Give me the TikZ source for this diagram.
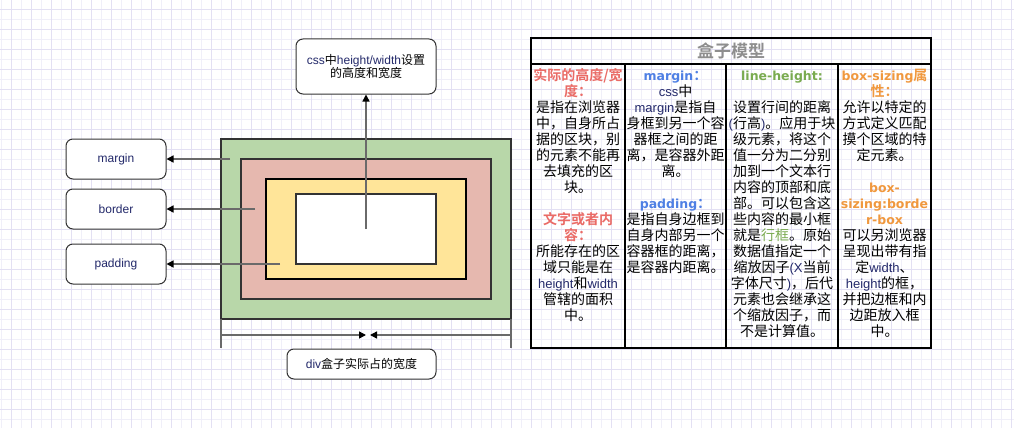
\documentclass[tikz,border=0pt]{standalone}
\usepackage{fontspec}
\setmainfont{Noto Sans CJK SC}[BoldFont=* Bold]
\newfontfamily\latfont{Liberation Sans}
\newfontfamily\hdfont{DejaVu Sans}
\usetikzlibrary{arrows.meta}

\definecolor{griddark}{HTML}{E3E0F3}
\definecolor{gridlight}{HTML}{F0EFF9}
\definecolor{edge}{HTML}{333333}
\definecolor{wire}{HTML}{6A6A6A}
\definecolor{mgreen}{HTML}{B8D7A9}
\definecolor{mred}{HTML}{E6B8AF}
\definecolor{myellow}{HTML}{FFE599}
\definecolor{latc}{HTML}{23296A}
\definecolor{hred}{HTML}{EA6B66}
\definecolor{hblue}{HTML}{4F80E4}
\definecolor{hgreen}{HTML}{7AAB50}
\definecolor{horange}{HTML}{F0983E}
\definecolor{titlegray}{HTML}{8E8E8E}

% Latin words inside the table body
\newcommand\lw[1]{{\latfont\fontsize{13}{16}\selectfont\color{latc}#1}}
% headings of the table columns
\newcommand\hd[2]{{\color{#1}\bfseries #2}}
\newcommand\hdl[2]{{\color{#1}\hdfont\bfseries\fontsize{12.5}{16}\selectfont #2}}
\newcommand\firstline{\rule{0pt}{13pt}}

\tikzset{
  layer/.style={draw=edge, line width=2pt, inner sep=0pt, outer sep=0pt, anchor=north west},
  lbl/.style={draw=edge, fill=white, rounded corners=7pt, line width=1pt,
    minimum width=100pt, minimum height=40pt, inner sep=0pt,
    font=\latfont\fontsize{12}{14}\selectfont, text=latc},
  arr/.style={draw=wire, line width=1.4pt, -{Triangle[length=7pt,width=7pt,color=black]}},
  tick/.style={draw=wire, line width=1.4pt},
  col/.style={anchor=north, inner sep=0pt, align=center,
    font=\fontsize{14}{16}\selectfont},
  tbl/.style={draw=black, line width=2pt},
}

\begin{document}
\begin{tikzpicture}[x=1pt,y=-1pt]
\useasboundingbox (0,0) rectangle (1014,428);
\fill[white] (0,0) rectangle (1014,428);

% background grid
\foreach \x in {1,21,...,1011} \draw[gridlight, line width=0.8pt] (\x,0) -- (\x,428);
\foreach \y in {19,39,...,419} \draw[gridlight, line width=0.8pt] (0,\y) -- (1014,\y);
\foreach \x in {11,31,...,1011} \draw[griddark, line width=0.8pt] (\x,0) -- (\x,428);
\foreach \y in {9,29,...,429} \draw[griddark, line width=0.8pt] (0,\y) -- (1014,\y);

% nested box layers
\node[layer, fill=mgreen, minimum width=290pt, minimum height=180pt] (mg) at (221,139) {};
\node[layer, fill=mred, minimum width=250pt, minimum height=140pt] (bd) at (241,159) {};
\node[layer, fill=myellow, draw=black, minimum width=200pt, minimum height=100pt] (pd) at (266,179) {};
\node[layer, fill=white, minimum width=140pt, minimum height=70pt] (ct) at (296,194) {};

% labels
\node[lbl] (lmargin) at (116,159) {margin};
\node[lbl] (lborder) at (116,209) {border};
\node[lbl] (lpadding) at (116,264) {padding};
\node[lbl, minimum width=140pt, minimum height=55pt, align=center, text=black,
      font=\fontsize{12}{13.5}\selectfont] (ltop) at (366,66.5)
  {\lw{\fontsize{12}{13.5}\selectfont css}中\lw{\fontsize{12}{13.5}\selectfont height/width}设置\\的高度和宽度};
\node[lbl, minimum width=149pt, minimum height=30pt, text=black,
      font=\fontsize{12}{14}\selectfont] (lwidth) at (361.5,364)
  {\lw{\fontsize{12}{14}\selectfont div}盒子实际占的宽度};

% connectors
\coordinate (pm) at (230,159);
\coordinate (pb) at (255,209);
\coordinate (pp) at (280,264);
\coordinate (pc) at (366,229);
\draw[arr] (pm) -- (lmargin.east);
\draw[arr] (pb) -- (lborder.east);
\draw[arr] (pp) -- (lpadding.east);
\draw[arr] (pc) -- (ltop.south);

% width dimension
\coordinate (tl) at (221,348);
\coordinate (tr) at (511,348);
\coordinate (dl) at (221,335);
\coordinate (dr) at (511,335);
\coordinate (dml) at (366,335);
\coordinate (dmr) at (370,335);
\draw[tick] (mg.south west) -- (tl);
\draw[tick] (mg.south east) -- (tr);
\draw[arr] (dl) -- (dml);
\draw[arr] (dr) -- (dmr);

% table
\draw[tbl] (531,38) rectangle (931,348);
\draw[tbl] (531,64) -- (931,64);
\draw[tbl] (625,64) -- (625,348);
\draw[tbl] (726,64) -- (726,348);
\draw[tbl] (838,64) -- (838,348);
\node[text=titlegray, font=\fontsize{17}{20}\selectfont\bfseries] (title) at (731,51) {盒子模型};

\node[col] (c1) at (578,67) {%
\firstline\hd{hred}{实际的高度/宽}\\
\hd{hred}{度：}\\
是指在浏览器\\
中，自身所占\\
据的区块，别\\
的元素不能再\\
去填充的区\\
块。\\[16pt]
\hd{hred}{文字或者内}\\
\hd{hred}{容：}\\
所能存在的区\\
域只能是在\\
\lw{height}和\lw{width}\\
管辖的面积\\
中。};

\node[col] (c2) at (675.5,67) {%
\firstline\hdl{hblue}{margin}\hd{hblue}{：}\\
\lw{css}中\\
\lw{margin}是指自\\
身框到另一个容\\
器框之间的距\\
离，是容器外距\\
离。\\[16pt]
\hdl{hblue}{padding}\hd{hblue}{：}\\
是指自身边框到\\
自身内部另一个\\
容器框的距离，\\
是容器内距离。};

\node[col] (c3) at (782,67) {%
\firstline\hdl{hgreen}{line-height:}\\[16pt]
设置行间的距离\\
\lw{(}行高\lw{)}。应用于块\\
级元素，将这个\\
值一分为二分别\\
加到一个文本行\\
内容的顶部和底\\
部。可以包含这\\
些内容的最小框\\
就是{\color{hgreen}行框}。原始\\
数据值指定一个\\
缩放因子\lw{(X}当前\\
字体尺寸\lw{)}，后代\\
元素也会继承这\\
个缩放因子，而\\
不是计算值。};

\node[col] (c4) at (884.5,67) {%
\firstline\hdl{horange}{box-sizing}\hd{horange}{属}\\
\hd{horange}{性：}\\
允许以特定的\\
方式定义匹配\\
摸个区域的特\\
定元素。\\[16pt]
\hdl{horange}{box-}\\
\hdl{horange}{sizing:borde}\\
\hdl{horange}{r-box}\\
可以另浏览器\\
呈现出带有指\\
定\lw{width}、\\
\lw{height}的框，\\
并把边框和内\\
边距放入框\\
中。};
\end{tikzpicture}
\end{document}
